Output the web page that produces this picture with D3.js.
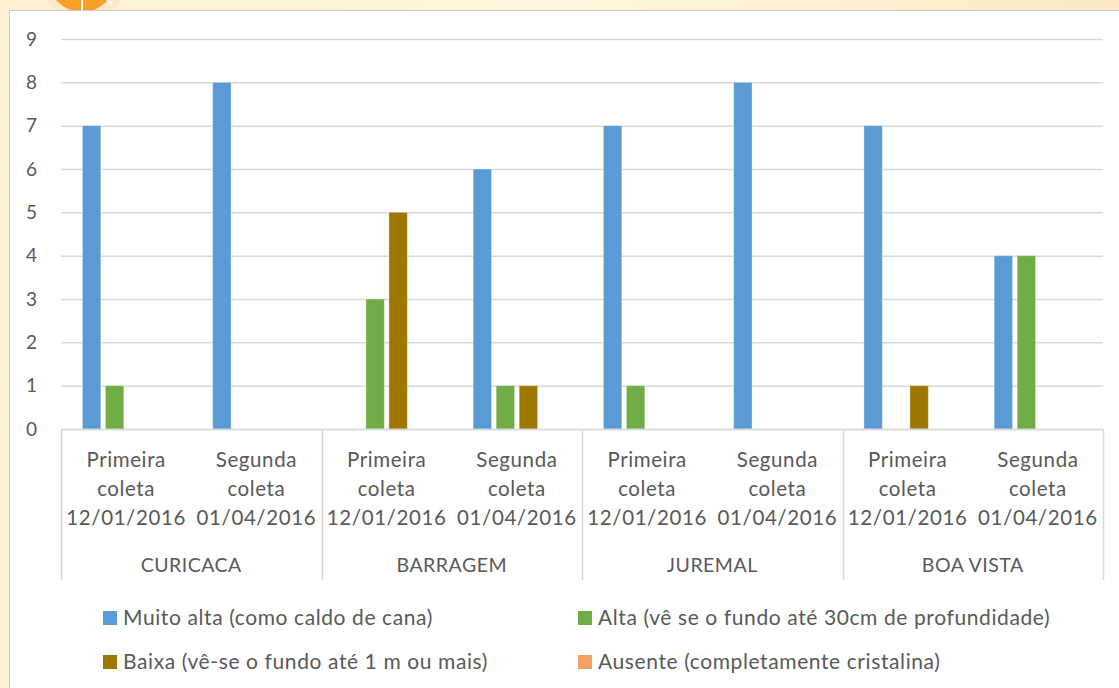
<!DOCTYPE html>
<html>
<head>
<meta charset="utf-8">
<script src="https://cdn.jsdelivr.net/npm/d3@7"></script>
<style>
  body { margin: 0; background: #fdf4d8; }
  svg { display: block; }
  text { font-family: Lato, "Open Sans", sans-serif; fill: #595959; }
</style>
</head>
<body>
<div id="chart"></div>
<script>
// chart data
var groups = ['CURICACA', 'BARRAGEM', 'JUREMAL', 'BOA VISTA'];
var coletas = [['Primeira', 'coleta', '12/01/2016'], ['Segunda', 'coleta', '01/04/2016']];
var series = ['Muito alta (como caldo de cana)', 'Alta (vê se o fundo até 30cm de profundidade)',
  'Baixa (vê-se o fundo até 1 m ou mais)', 'Ausente (completamente cristalina)'];
var muitoAlta = [7, 8, 0, 6, 7, 8, 7, 4];
var alta = [1, 0, 3, 1, 1, 0, 0, 4];
var baixa = [0, 0, 5, 1, 0, 0, 1, 0];
var ausente = [0, 0, 0, 0, 0, 0, 0, 0];
var yTicks = [0, 1, 2, 3, 4, 5, 6, 7, 8, 9];

var colors = ['#5b9bd5', '#70ad47', '#9e7700', '#f4a15f'];
var values = [muitoAlta, alta, baixa, ausente];

var width = 1119, height = 688;
var plot = { left: 61, right: 1103, top: 39, bottom: 429 };

var svg = d3.select('#chart').append('svg')
    .attr('width', width)
    .attr('height', height);

// slide background + decoration
var defs = svg.append('defs');
var grad = defs.append('linearGradient').attr('id', 'bg').attr('x1', 0).attr('x2', 1);
grad.append('stop').attr('offset', 0).attr('stop-color', '#fcf1d2');
grad.append('stop').attr('offset', 0.5).attr('stop-color', '#fdf6dc');
grad.append('stop').attr('offset', 1).attr('stop-color', '#fce9c4');
svg.append('rect').attr('width', width).attr('height', height).attr('fill', 'url(#bg)');
svg.append('circle').attr('cx', 84).attr('cy', -20).attr('r', 42).attr('fill', '#fbebc8');
svg.append('circle').attr('cx', 82).attr('cy', -22).attr('r', 34).attr('fill', '#f7a128');
svg.append('line').attr('x1', 82).attr('y1', -22).attr('x2', 82).attr('y2', 12)
    .attr('stroke', '#fff').attr('stroke-width', 2);
svg.append('line').attr('x1', 82).attr('y1', -22).attr('x2', 112).attr('y2', 4)
    .attr('stroke', '#fff').attr('stroke-width', 2);

// white chart panel
svg.append('rect').attr('x', 11).attr('y', 12).attr('width', width).attr('height', height)
    .attr('fill', '#e6e0cf');
svg.append('rect').attr('x', 9.5).attr('y', 10.5).attr('width', width).attr('height', height)
    .attr('fill', '#fff').attr('stroke', '#c9c9c9').attr('stroke-width', 1);

var keys = d3.range(8);
var x0 = d3.scaleBand().domain(keys).range([plot.left, plot.right]).padding(0);
var x1 = d3.scaleBand().domain(d3.range(series.length)).range([0, x0.bandwidth()])
    .paddingInner(0.2).paddingOuter(0.93);
var y = d3.scaleLinear().domain([0, 9]).range([plot.bottom, plot.top]);

// gridlines
var yAxis = d3.axisLeft(y).tickValues(yTicks).tickSize(-(plot.right - plot.left)).tickPadding(24);
var gy = svg.append('g').attr('transform', 'translate(' + plot.left + ',0)').call(yAxis);
gy.select('.domain').remove();
gy.selectAll('.tick line').attr('stroke', '#d9d9d9').attr('stroke-width', 1.5);
gy.selectAll('.tick text').attr('font-size', 19).style('font-family', 'Lato, sans-serif')
    .attr('fill', '#595959');

// bars
values.forEach(function (vals, s) {
  svg.append('g').selectAll('rect')
    .data(vals)
    .enter().append('rect')
    .attr('x', function (d, i) { return x0(i) + x1(s); })
    .attr('y', function (d) { return y(d); })
    .attr('width', x1.bandwidth())
    .attr('height', function (d) { return plot.bottom - y(d); })
    .attr('fill', colors[s])
    .attr('stroke', '#ffffff').attr('stroke-opacity', 0.35).attr('stroke-width', 1);
});

// category axis
var axisBottom = 580;
svg.append('line').attr('x1', plot.left).attr('x2', plot.right)
    .attr('y1', plot.bottom + 0.5).attr('y2', plot.bottom + 0.5)
    .attr('stroke', '#d9d9d9').attr('stroke-width', 1.5);
var groupScale = d3.scaleBand().domain(groups).range([plot.left, plot.right]);
var bounds = groups.map(function (g) { return groupScale(g); }).concat([plot.right]);
svg.append('g').selectAll('line')
  .data(bounds)
  .enter().append('line')
  .attr('x1', function (d) { return Math.round(d) + 0.5; })
  .attr('x2', function (d) { return Math.round(d) + 0.5; })
  .attr('y1', plot.bottom).attr('y2', axisBottom)
  .attr('stroke', '#d9d9d9').attr('stroke-width', 1.5);

keys.forEach(function (k) {
  var lines = coletas[k % 2];
  var t = svg.append('text')
    .attr('text-anchor', 'middle')
    .attr('font-size', 20.5)
    .attr('letter-spacing', 0.6)
    .attr('x', x0(k) + x0.bandwidth() / 2);
  lines.forEach(function (l, j) {
    t.append('tspan').attr('x', x0(k) + x0.bandwidth() / 2).attr('y', 467 + j * 29).text(l);
  });
});
svg.append('g').selectAll('text')
  .data(groups)
  .enter().append('text')
  .attr('text-anchor', 'middle')
  .attr('font-size', 19.5)
  .attr('letter-spacing', 0.5)
  .attr('x', function (d) { return groupScale(d) + groupScale.bandwidth() / 2; })
  .attr('y', 572)
  .text(function (d) { return d; });

// legend
var legendPos = [[103, 618], [578, 618], [103, 662], [578, 662]];
var legend = svg.append('g').selectAll('g')
  .data(series)
  .enter().append('g')
  .attr('transform', function (d, i) { return 'translate(' + legendPos[i][0] + ',' + legendPos[i][1] + ')'; });
legend.append('rect')
  .attr('x', 0).attr('y', -7).attr('width', 14).attr('height', 14)
  .attr('fill', function (d, i) { return colors[i]; });
legend.append('text')
  .attr('x', 20).attr('y', 7)
  .attr('font-size', 21)
  .attr('letter-spacing', 0.6)
  .text(function (d) { return d; });
</script>
</body>
</html>
